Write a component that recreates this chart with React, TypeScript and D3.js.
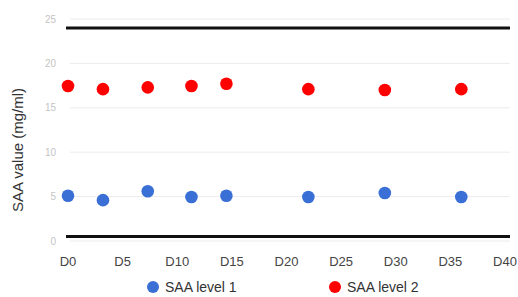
import React from "react";
import * as d3 from "d3";

// sample days and SAA values
const days = [0, 3.2, 7.3, 11.3, 14.5, 22, 29, 36];
const level1 = [5.1, 4.6, 5.6, 4.95, 5.1, 4.95, 5.4, 4.95];
const level2 = [17.45, 17.1, 17.3, 17.45, 17.7, 17.1, 17.0, 17.1];
const yTicks = [0, 5, 10, 15, 20, 25];
const xTicks = [0, 5, 10, 15, 20, 25, 30, 35, 40];
const refLines = [0.5, 24];

const W = 518;
const H = 297;

export default function App() {
  const x = d3.scaleLinear().domain([0, 40]).range([68, 505]);
  const y = d3.scaleLinear().domain([0, 25]).range([241, 19]);
  const left = 66;
  const right = 510;
  const font = "Arial, Liberation Sans, sans-serif";

  return (
    <svg width={W} height={H} style={{ position: "absolute", left: 0, top: 0, background: "#fff" }}>
      {yTicks.map((t) => (
        <g key={t}>
          <line x1={70} x2={right} y1={y(t)} y2={y(t)} stroke="#ececec" strokeWidth={1} />
          <text x={56} y={y(t)} dy="0.35em" textAnchor="end" fontFamily={font} fontSize={10} fill="#c4c4c4">
            {t}
          </text>
        </g>
      ))}
      {refLines.map((v) => (
        <line key={v} x1={left} x2={right} y1={y(v)} y2={y(v)} stroke="#111" strokeWidth={3} />
      ))}
      {xTicks.map((t) => (
        <text key={t} x={x(t)} y={266} textAnchor="middle" fontFamily={font} fontSize={13} fill="#444">
          {"D" + t}
        </text>
      ))}
      <text transform={`translate(23,150) rotate(-90)`} textAnchor="middle" fontFamily={font} fontSize={15} fill="#333">
        SAA value (mg/ml)
      </text>
      {days.map((d, i) => (
        <circle key={"b" + i} cx={x(d)} cy={y(level1[i])} r={6.3} fill="#3a6fd6" />
      ))}
      {days.map((d, i) => (
        <circle key={"r" + i} cx={x(d)} cy={y(level2[i])} r={6.3} fill="#ff0000" />
      ))}
      <circle cx={153} cy={287} r={6} fill="#3a6fd6" />
      <text x={165} y={287} dy="0.35em" fontFamily={font} fontSize={14} fill="#333">
        SAA level 1
      </text>
      <circle cx={335} cy={287} r={6} fill="#ff0000" />
      <text x={347} y={287} dy="0.35em" fontFamily={font} fontSize={14} fill="#333">
        SAA level 2
      </text>
    </svg>
  );
}
